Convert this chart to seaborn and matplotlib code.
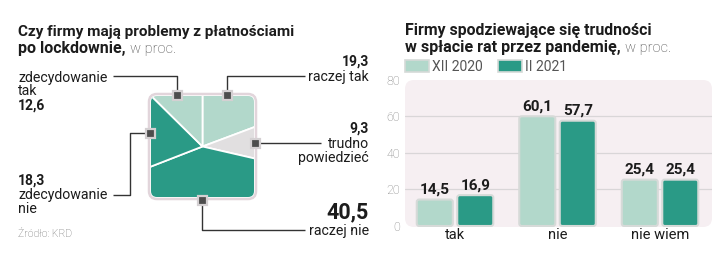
import matplotlib
matplotlib.use('Agg')
import matplotlib.pyplot as plt
from matplotlib import font_manager as fm
from matplotlib.patches import FancyBboxPatch, Patch, Rectangle
import seaborn as sns
import pandas as pd

# ---------------- data ----------------
pie_labels = ['raczej tak', 'trudno powiedzieć', 'raczej nie', 'zdecydowanie nie', 'zdecydowanie tak']
pie_values = [19.3, 9.3, 40.5, 18.3, 12.6]

bar_categories = ['tak', 'nie', 'nie wiem']
series_names = ['XII 2020', 'II 2021']
values_xii_2020 = [14.5, 60.1, 25.4]
values_ii_2021 = [16.9, 57.7, 25.4]
y_ticks = [0, 20, 40, 60, 80]

# ---------------- style ----------------
sns.set_theme(style='white')
names = {f.name for f in fm.fontManager.ttflist}
FONT = 'Roboto' if 'Roboto' in names else 'DejaVu Sans'
plt.rcParams['font.family'] = [FONT, 'DejaVu Sans']

LIGHT = '#b2d8cb'
DARK = '#2a9a86'
GREY_SLICE = '#e1dfe0'
BG = '#f6eff2'
EDGE = '#d6dad8'
INK = '#1c1c1c'
LINE = '#333333'

W, H = 720, 264
fig = plt.figure(figsize=(7.2, 2.64), dpi=100)
fig.patch.set_facecolor('white')


def px_axes(x0, y0, x1, y1, **kw):
    return fig.add_axes([x0 / W, 1 - y1 / H, (x1 - x0) / W, (y1 - y0) / H], **kw)


def fmt(v):
    return f'{v:.1f}'.replace('.', ',')


# ---------------- square pie ----------------
pax = px_axes(148, 93, 257, 200)
pie_colors = [LIGHT, GREY_SLICE, DARK, DARK, LIGHT]
wedges, _ = pax.pie(pie_values, colors=pie_colors, startangle=90, counterclock=False,
                    radius=200, wedgeprops=dict(edgecolor='white', linewidth=1.3))
pax.set_xlim(-54.5, 54.5)
pax.set_ylim(-53.5, 53.5)
pax.set_aspect('auto')
pax.axis('off')
border = FancyBboxPatch((-53.5, -52.5), 107, 105, boxstyle='round,pad=0,rounding_size=8',
                        fc='white', ec='#e2d5db', lw=1.8, zorder=0, clip_on=False,
                        transform=pax.transData)
pax.add_patch(border)
clip = FancyBboxPatch((-51.5, -50.5), 103, 101, boxstyle='round,pad=0,rounding_size=6',
                      transform=pax.transData)
for w in wedges:
    w.set_clip_on(True)
    w.set_clip_path(clip)

# ---------------- bar chart ----------------
df = pd.DataFrame({
    'kategoria': bar_categories * 2,
    'okres': [series_names[0]] * len(bar_categories) + [series_names[1]] * len(bar_categories),
    'wartość': values_xii_2020 + values_ii_2021,
})
bax = px_axes(405, 80, 712, 227)
sns.barplot(data=df, x='kategoria', y='wartość', hue='okres', order=bar_categories,
            hue_order=series_names, palette=[LIGHT, DARK], width=0.79, gap=0.11,
            saturation=1, edgecolor=EDGE, linewidth=1.5, legend=False, ax=bax)
bax.set_xlim(-0.488, 2.507)
bax.set_ylim(-0.55, 80)

for cont in bax.containers:
    bax.bar_label(cont, labels=[fmt(v) for v in cont.datavalues], padding=2,
                  fontsize=11, fontweight='bold', color=INK)

# rounded bars
xppu = 307 / (2.507 + 0.488)
yppu = 147 / 80.55
rx = 2.5 / xppu
ma = (2.5 / yppu) / rx
for rect in list(bax.patches):
    fb = FancyBboxPatch((rect.get_x(), rect.get_y()), rect.get_width(), rect.get_height(),
                        boxstyle=f'round,pad=0,rounding_size={rx}', mutation_aspect=ma,
                        fc=rect.get_facecolor(), ec=rect.get_edgecolor(),
                        lw=rect.get_linewidth(), zorder=2)
    bax.add_patch(fb)
    rect.set_visible(False)

bax.patch.set_visible(False)
r_ax = 9 / 307
bg = FancyBboxPatch((0, 0), 1, 1, boxstyle=f'round,pad=0,rounding_size={r_ax}',
                    mutation_aspect=(9 / 147) / r_ax,
                    transform=bax.transAxes, fc=BG, ec='none', zorder=0)
bax.add_patch(bg)
for yv in y_ticks[1:-1]:
    bax.axhline(yv, color='#d9d6d8', lw=0.9, zorder=0.5)

bax.set_yticks(y_ticks)
bax.set_yticklabels([str(v) for v in y_ticks])
bax.tick_params(axis='y', length=0, pad=3.5, labelsize=9, labelcolor='#808080')
for t in bax.get_yticklabels():
    t.set_fontweight('light')
bax.tick_params(axis='x', length=0, pad=1, labelsize=10.5, labelcolor=INK)
bax.set_xlabel('')
bax.set_ylabel('')
for s in bax.spines.values():
    s.set_visible(False)

fig.legend(handles=[Patch(fc=LIGHT, ec=EDGE, lw=1.2, label=series_names[0]),
                    Patch(fc=DARK, ec=EDGE, lw=1.2, label=series_names[1])],
           loc='upper left', bbox_to_anchor=(405 / W, 1 - 60 / H), ncol=2, frameon=False,
           prop={'family': FONT, 'weight': 'normal', 'size': 10}, labelcolor='#555555',
           handlelength=1.73, handleheight=0.93, handletextpad=0.2, columnspacing=1.1,
           borderpad=0, borderaxespad=0)

# ---------------- overlay: texts, leaders, markers ----------------
ov = fig.add_axes([0, 0, 1, 1], zorder=10)
ov.set_xlim(0, W)
ov.set_ylim(H, 0)
ov.axis('off')
ov.patch.set_alpha(0)


def txt(x, y, s, size, weight='normal', ha='left', color=INK):
    return ov.text(x, y, s, fontsize=size, fontweight=weight, ha=ha, va='baseline',
                   color=color)


t1 = txt(18, 36, 'Czy firmy mają problemy z płatnościami', 11, 'bold')
t2 = txt(18, 53, 'po lockdownie,', 11.5, 'bold')
t3 = txt(405, 35, 'Firmy spodziewające się trudności', 11.4, 'bold')
t4 = txt(405, 52, 'w spłacie rat przez pandemię,', 11.6, 'bold')
fig.canvas.draw()
r = fig.canvas.get_renderer()
for t in (t2, t4):
    bb = t.get_window_extent(r)
    txt(bb.x1 + 4, 53 if t is t2 else 52, 'w proc.', 10.5, 'light', color='#444444')

# left labels
LS = 10.2
txt(18, 82, 'zdecydowanie', LS)
txt(18, 95, 'tak', LS)
txt(18, 110, fmt(pie_values[4]), 10, 'bold')

txt(369, 66, fmt(pie_values[0]), 10, 'bold', ha='right')
txt(369, 81, 'raczej tak', LS, ha='right')

txt(369, 133, fmt(pie_values[1]), 10, 'bold', ha='right')
txt(369, 148, 'trudno', LS, ha='right')
txt(369, 162, 'powiedzieć', LS, ha='right')

txt(18, 185, fmt(pie_values[3]), 10, 'bold')
txt(18, 199, 'zdecydowanie', LS)
txt(18, 213, 'nie', LS)

txt(369, 218, fmt(pie_values[2]), 15.5, 'bold', ha='right')
txt(369, 235, 'raczej nie', LS, ha='right')

txt(18, 237, 'Źródło: KRD', 7.5, 'light', color='#666666')

# leader lines
lines = [
    [(113, 76), (177, 76), (177, 95)],
    [(227, 95), (227, 76), (305, 76)],
    [(255, 143), (321, 143)],
    [(150, 133), (130, 133), (130, 195), (113, 195)],
    [(202, 200), (202, 230), (305, 230)],
]
for pts in lines:
    xs, ys = zip(*pts)
    ov.plot(xs, ys, color=LINE, lw=1, solid_capstyle='butt')

for (mx, my) in [(177, 95), (227, 95), (255, 143), (150, 133), (202, 200)]:
    ov.add_patch(Rectangle((mx - 4.5, my - 4.5), 9, 9, fc='#4d4d4d', ec='#d4d0d2', lw=1.6,
                           zorder=12))

fig.savefig('out.png', dpi=100)
